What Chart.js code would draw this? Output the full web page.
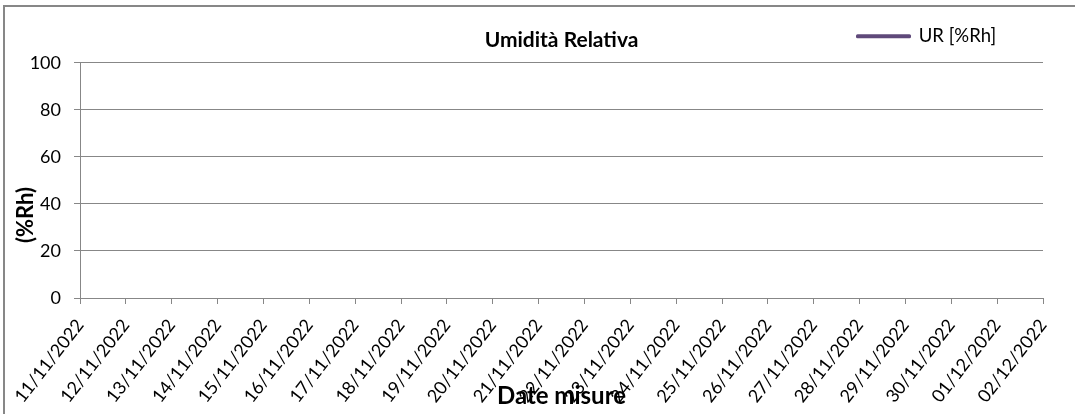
<!DOCTYPE html>
<html lang="it">
<head>
<meta charset="utf-8">
<title>Umidità Relativa</title>
<script src="https://cdn.jsdelivr.net/npm/chart.js@4.4.1/dist/chart.umd.min.js"></script>
<style>
    html, body { margin: 0; padding: 0; background: #fff; }
    #wrap { position: relative; width: 1075px; height: 414px; overflow: hidden; }
    #frame {
        position: absolute; left: 3px; top: 5px; right: -10px; bottom: -10px;
        border-left: 2px solid #878787; border-top: 2px solid #878787;
    }
    #chart { position: absolute; left: 0; top: 0; }
</style>
</head>
<body>
<div id="wrap">
    <div id="frame"></div>
    <canvas id="chart" width="1075" height="414"></canvas>
</div>
<script>
// Dates on the x axis
const dateLabels = [
    '11/11/2022', '12/11/2022', '13/11/2022', '14/11/2022', '15/11/2022', '16/11/2022',
    '17/11/2022', '18/11/2022', '19/11/2022', '20/11/2022', '21/11/2022', '22/11/2022',
    '23/11/2022', '24/11/2022', '25/11/2022', '26/11/2022', '27/11/2022', '28/11/2022',
    '29/11/2022', '30/11/2022', '01/12/2022', '02/12/2022'
];

// UR series: no measurement is plotted in the reference
const urValues = [
    null, null, null, null, null, null, null, null, null, null, null,
    null, null, null, null, null, null, null, null, null, null, null
];

// Y axis ticks
const yTicks = [0, 20, 40, 60, 80, 100];

const axisGray = '#878787';
const urColor = '#5f497a';

document.addEventListener('DOMContentLoaded', function() {
    const ctx = document.getElementById('chart').getContext('2d');

    // moves the legend to the right spot next to the title
    const legendSpot = {
        id: 'legendSpot',
        afterLayout(chart) {
            const lg = chart.legend;
            if (!lg || !lg.lineWidths) return;
            lg.right = 857.5 + lg.lineWidths[0];
        }
    };

    // y axis title, placed like in the original sheet
    const yTitle = {
        id: 'yTitle',
        afterDraw(chart) {
            const c = chart.ctx;
            c.save();
            c.font = 'bold 22px Lato';
            c.fillStyle = '#000';
            c.textAlign = 'center';
            c.textBaseline = 'middle';
            c.translate(26, 215);
            c.rotate(-Math.PI / 2);
            c.fillText('(%Rh)', 0, 0);
            c.restore();
        }
    };

    new Chart(ctx, {
        type: 'line',
        data: {
            labels: dateLabels,
            datasets: [{
                label: 'UR [%Rh]',
                data: urValues,
                borderColor: urColor,
                backgroundColor: urColor,
                borderWidth: 3,
                borderCapStyle: 'round',
                borderJoinStyle: 'round',
                pointRadius: 0,
                spanGaps: false
            }]
        },
        options: {
            responsive: false,
            animation: false,
            layout: {
                padding: { top: 23, right: 32, bottom: 0, left: 0 }
            },
            scales: {
                x: {
                    type: 'category',
                    offset: false,
                    grid: {
                        drawOnChartArea: false,
                        offset: false,
                        color: axisGray,
                        tickLength: 6
                    },
                    border: { color: axisGray },
                    ticks: {
                        autoSkip: false,
                        minRotation: 52,
                        maxRotation: 52,
                        padding: 11,
                        color: '#000',
                        font: { family: 'Lato', size: 18 }
                    },
                    title: {
                        display: true,
                        text: 'Date misure',
                        color: '#000',
                        font: { family: 'Lato', size: 24, weight: 'bold' },
                        padding: { top: 0, bottom: 3 }
                    },
                    afterFit: function(scale) { scale.height = 116; }
                },
                y: {
                    min: 0,
                    max: 100,
                    afterBuildTicks: function(scale) {
                        scale.ticks = yTicks.map(v => ({ value: v }));
                    },
                    grid: {
                        color: axisGray,
                        tickLength: 6
                    },
                    border: { color: axisGray },
                    ticks: {
                        padding: 13,
                        color: '#000',
                        font: { family: 'Lato', size: 18 }
                    },
                    afterFit: function(scale) { scale.width = 80; }
                }
            },
            plugins: {
                legend: {
                    position: 'top',
                    align: 'end',
                    fullSize: false,
                    weight: 3000,
                    labels: {
                        boxWidth: 52,
                        boxHeight: 1,
                        padding: 4,
                        color: '#000',
                        font: { family: 'Lato', size: 18.5 }
                    }
                },
                title: {
                    display: true,
                    text: 'Umidità Relativa',
                    fullSize: false,
                    weight: 2000,
                    color: '#000',
                    font: { family: 'Lato', size: 21, weight: 'bold' },
                    padding: { top: -28, bottom: 10 }
                },
                tooltip: { enabled: false }
            }
        },
        plugins: [legendSpot, yTitle]
    });
});
</script>
</body>
</html>
